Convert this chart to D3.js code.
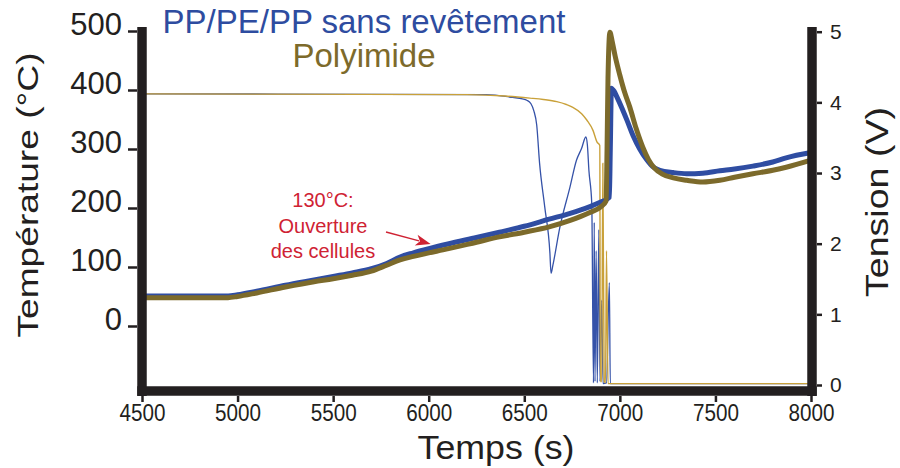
<!DOCTYPE html>
<html><head><meta charset="utf-8">
<script src="https://cdn.jsdelivr.net/npm/d3@7"></script>
<style>body{margin:0;background:#fff}svg{display:block}</style>
</head><body>
<svg id="c" width="900" height="468"></svg>
<script>
// ---- data ----
const timeTicks = [4500,5000,5500,6000,6500,7000,7500,8000];
const tempTicks = [0,100,200,300,400,500];
const voltTicks = [0,1,2,3,4,5];

const seriesNames = ["PP/PE/PP sans revêtement","Polyimide"];

// Thick lines: temperature (°C), left axis
const blueTempTime = [4500,4900,4950,5000,5100,5250,5400,5500,5600,5700,5780,5850,5920,6000,6100,6250,6370,6500,6630,6740,6840,6900,6945,6950,6956,6962,6970,6985,7010,7037,7070,7104,7140,7172,7209,7280,7350,7434,7523,7600,7696,7800,7870,8000];
const blueTempVal  = [51,51,51,53,59,69,78,84,90,97,106,117,124,131,139,150,159,169,181,191,202,210,218,300,403,401,398,388,370,349,322,300,282,270,264,260,258,259,263,266,271,278,285,294];

const goldTempTime = [4500,4900,4950,5000,5100,5250,5400,5500,5600,5700,5780,5850,5920,6000,6074,6250,6370,6500,6630,6740,6840,6900,6928,6933,6938,6948,6960,6975,7000,7025,7052,7085,7120,7150,7180,7220,7280,7350,7434,7523,7600,7696,7800,7870,8000];
const goldTempVal  = [48,48,48,50,56,66,75,80,86,93,103,112,118,124,129,142,151,159,168,179,192,202,212,300,420,498,482,458,425,396,371,335,303,282,268,258,251,247,244,247,252,258,264,269,281];

// Thin lines: voltage (V), right axis
const blueVoltTime = [4500,6300,6440,6490,6513,6535,6550,6565,6580,6607,6634,6640,6650,6686,6739,6773,6800,6822,6830,6838,6853,6862,6866,6870,6876,6882,6890,6896,6905,6912,6930,6945,6950,8000];
const blueVoltVal  = [4.12,4.11,4.07,4.05,4.03,3.98,3.88,3.68,3.14,2.52,1.87,1.58,1.70,2.23,2.80,3.18,3.35,3.51,3.40,3.04,2.57,0.03,2.30,0.05,1.90,0.03,2.20,0.05,1.20,0.02,0.03,1.45,0.02,0.02];

const goldVoltTime = [4500,6200,6400,6529,6600,6670,6720,6754,6800,6827,6860,6880,6895,6898,6905,6911,6918,6925,6930,6938,8000];
const goldVoltVal  = [4.12,4.11,4.09,4.06,4.04,4.01,3.97,3.93,3.84,3.75,3.60,3.44,3.39,0.05,0.05,3.14,0.05,0.03,1.90,0.02,0.02];

// ---- chart ----
const svg = d3.select("#c");
const FONT = "'Liberation Sans', Arial, sans-serif";
const INK = "#231f20";
const BLUE = "#2f4da2", GOLD_T = "#7c6a2b", GOLD_V = "#c9a13a", BLUE_V = "#3552a8";

const x  = d3.scaleLinear().domain([4500,8000]).range([142,811]);
const yT = d3.scaleLinear().domain([0,500]).range([326,31]);
const yV = d3.scaleLinear().domain([0,5]).range([385,31.7]);

const lineV = (t,v) => d3.line().curve(d3.curveMonotoneX).x((d,i)=>x(t[i])).y((d,i)=>yV(v[i]))(t);
const lineT = (t,v) => d3.line().curve(d3.curveMonotoneX).x((d,i)=>x(t[i])).y((d,i)=>yT(v[i]))(t);

svg.append("path").attr("d", lineV(blueVoltTime, blueVoltVal)).attr("fill","none").attr("stroke",BLUE_V).attr("stroke-width",1.3).attr("stroke-linejoin","round");
svg.append("path").attr("d", lineV(goldVoltTime, goldVoltVal)).attr("fill","none").attr("stroke",GOLD_V).attr("stroke-width",1.4).attr("stroke-linejoin","round");
svg.append("path").attr("d", lineT(blueTempTime, blueTempVal)).attr("fill","none").attr("stroke",BLUE).attr("stroke-width",5).attr("stroke-linejoin","round");
svg.append("path").attr("d", lineT(goldTempTime, goldTempVal)).attr("fill","none").attr("stroke",GOLD_T).attr("stroke-width",5).attr("stroke-linejoin","round");

// axis frame lines
const yTop = 27, yBot = 396;
svg.append("line").attr("x1",x(4500)).attr("x2",x(4500)).attr("y1",yTop).attr("y2",yBot).attr("stroke",INK).attr("stroke-width",9.5);
svg.append("line").attr("x1",x(8000)+1).attr("x2",x(8000)+1).attr("y1",yTop).attr("y2",yBot).attr("stroke",INK).attr("stroke-width",9.5);
svg.append("line").attr("x1",x(4500)-4.75).attr("x2",x(8000)+5.75).attr("y1",391).attr("y2",391).attr("stroke",INK).attr("stroke-width",9.5);

// left axis
const gL = svg.append("g").attr("transform","translate(137,0)")
  .call(d3.axisLeft(yT).tickValues(tempTicks).tickSize(9).tickPadding(6));
gL.select(".domain").remove();
gL.selectAll(".tick line").attr("stroke",INK).attr("stroke-width",2.5);
gL.selectAll(".tick text").attr("fill",INK).attr("font-family",FONT).attr("font-size",31).attr("dy","0.1em");

// right axis
const gR = svg.append("g").attr("transform","translate(817,0)")
  .call(d3.axisRight(yV).tickValues(voltTicks).tickSize(5).tickPadding(8).tickFormat(d3.format("d")));
gR.select(".domain").remove();
gR.selectAll(".tick line").attr("stroke",INK).attr("stroke-width",2.5);
gR.selectAll(".tick text").attr("fill",INK).attr("font-family",FONT).attr("font-size",21);

// bottom axis
const gB = svg.append("g").attr("transform","translate(0,396)")
  .call(d3.axisBottom(x).tickValues(timeTicks).tickSize(6).tickPadding(2).tickFormat(d3.format("d")));
gB.select(".domain").remove();
gB.selectAll(".tick line").attr("stroke",INK).attr("stroke-width",2.5);
gB.selectAll(".tick text").attr("fill",INK).attr("font-family",FONT).attr("font-size",24)
  .attr("textLength",46).attr("lengthAdjust","spacingAndGlyphs");

// axis titles
svg.append("text").attr("transform","translate(38,195) rotate(-90)").attr("text-anchor","middle")
  .attr("font-family",FONT).attr("font-size",30).attr("fill",INK)
  .attr("textLength",285).attr("lengthAdjust","spacingAndGlyphs").text("Température (°C)");
svg.append("text").attr("transform","translate(888,202) rotate(-90)").attr("text-anchor","middle")
  .attr("font-family",FONT).attr("font-size",32).attr("fill",INK)
  .attr("textLength",190).attr("lengthAdjust","spacingAndGlyphs").text("Tension (V)");
svg.append("text").attr("x",496).attr("y",459).attr("text-anchor","middle")
  .attr("font-family",FONT).attr("font-size",34).attr("fill",INK)
  .attr("textLength",157).attr("lengthAdjust","spacingAndGlyphs").text("Temps (s)");

// legend
svg.append("text").attr("x",364).attr("y",33).attr("text-anchor","middle")
  .attr("font-family",FONT).attr("font-size",33).attr("fill","#2e4ca0").text(seriesNames[0]);
svg.append("text").attr("x",364).attr("y",67).attr("text-anchor","middle")
  .attr("font-family",FONT).attr("font-size",33).attr("fill","#7d6a2b").text(seriesNames[1]);

// annotation
const RED = "#cf2233";
const ann = svg.append("text").attr("text-anchor","middle").attr("font-family",FONT).attr("font-size",20).attr("fill",RED);
[["130°C:",207],["Ouverture",233],["des cellules",258]].forEach(([s,yy])=>{
  ann.append("tspan").attr("x",323).attr("y",yy).text(s);
});
const tipX = x(6010), tipY = yT(139);
const startX = 386, startY = 232;
const ang = Math.atan2(tipY-startY, tipX-startX);
const hl = 15, hw = 5.5;
const bx = tipX - hl*Math.cos(ang), by = tipY - hl*Math.sin(ang);
svg.append("line").attr("x1",startX).attr("y1",startY).attr("x2",bx+3*Math.cos(ang)).attr("y2",by+3*Math.sin(ang)).attr("stroke",RED).attr("stroke-width",1.3);
svg.append("path").attr("d",`M${tipX},${tipY} L${bx - hw*Math.sin(ang)},${by + hw*Math.cos(ang)} L${bx + 4*Math.cos(ang)},${by + 4*Math.sin(ang)} L${bx + hw*Math.sin(ang)},${by - hw*Math.cos(ang)} Z`).attr("fill",RED);
</script>
</body></html>
